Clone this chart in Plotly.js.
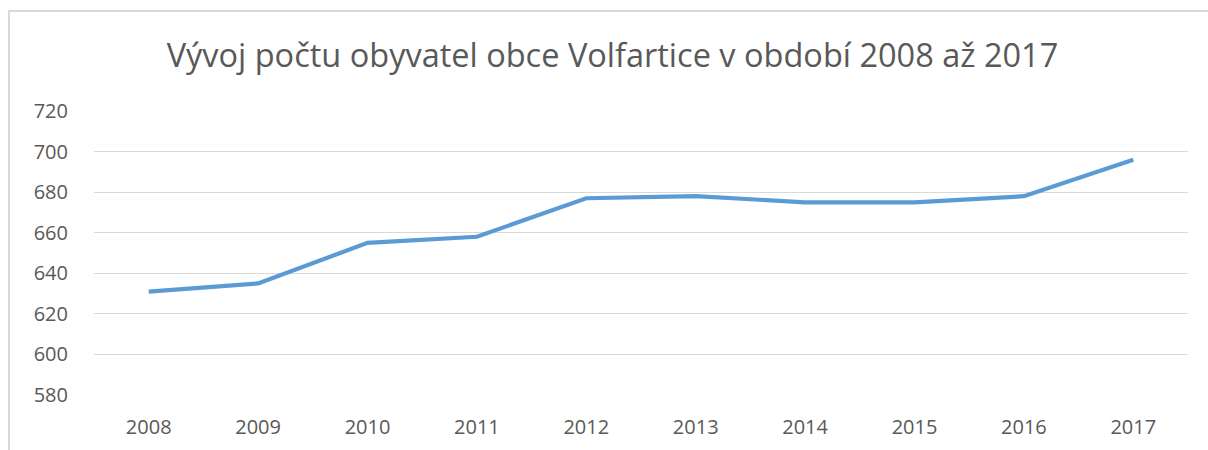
<!DOCTYPE html>
<html><head><meta charset="utf-8">
<script src="https://cdn.plot.ly/plotly-3.0.1.min.js"></script>
<style>
html,body{margin:0;padding:0;background:#fff;}
#wrap{position:relative;width:1208px;height:450px;overflow:hidden;}
#chart{position:absolute;left:0;top:0;width:1208px;height:450px;}
#frame{position:absolute;left:8px;top:10px;width:1300px;height:500px;border-left:2px solid #d9d9d9;border-top:2px solid #d9d9d9;pointer-events:none;}
</style></head>
<body><div id="wrap"><div id="chart"></div><div id="frame"></div></div>
<script>
const years = ['2008','2009','2010','2011','2012','2013','2014','2015','2016','2017'];
const population = [631, 635, 655, 658, 677, 678, 675, 675, 678, 696];
const yTicks = [580, 600, 620, 640, 660, 680, 700, 720];
const titleText = 'Vývoj počtu obyvatel obce Volfartice v období 2008 až 2017';

const font = 'Open Sans, Noto Sans, sans-serif';
Plotly.newPlot('chart', [{
  x: years, y: population, type: 'scatter', mode: 'lines',
  line: {color: '#5B9BD5', width: 4.2},
  hoverinfo: 'skip'
}], {
  width: 1208, height: 450,
  margin: {l: 94, r: 20, t: 111, b: 55},
  paper_bgcolor: '#fff', plot_bgcolor: '#fff',
  showlegend: false,
  title: {text: titleText, font: {family: font, size: 32.5, color: '#595959'},
          x: 0.507, xref: 'container', xanchor: 'center', y: 1 - 56/450, yref: 'container', yanchor: 'middle'},
  xaxis: {type: 'category', range: [-0.5, years.length - 0.5], showgrid: false, zeroline: false, showline: false, ticks: '',
          tickfont: {family: font, size: 20, color: '#595959'}, ticklabelstandoff: 18},
  yaxis: {range: [580, 720], tickvals: yTicks, showgrid: true, gridcolor: '#d9d9d9', gridwidth: 1,
          zeroline: false, showline: false, ticks: '',
          tickfont: {family: font, size: 20, color: '#595959'}, ticklabelstandoff: 25}
}, {staticPlot: true});
</script></body></html>
